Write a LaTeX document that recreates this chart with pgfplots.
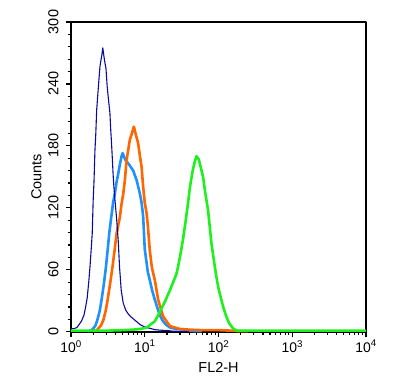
\documentclass[border=0pt]{standalone}
\usepackage{fontspec}
\setmainfont{Liberation Sans}
\usepackage{pgfplots}
\pgfplotsset{compat=1.18}
\definecolor{dblue}{RGB}{10,10,160}
\definecolor{lblue}{RGB}{30,145,250}
\definecolor{orng}{RGB}{255,102,0}
\definecolor{grn}{RGB}{30,240,30}
\begin{document}
\begin{tikzpicture}
\useasboundingbox (-71bp,-54.3bp) rectangle (341bp,331.7bp);
\begin{axis}[
 at={(0,0)}, anchor=south west,
 scale only axis, width=295bp, height=309.7bp,
 xmode=log, xmin=1, xmax=10000, ymin=0, ymax=300,
 xtick={1,10,100,1000,10000},
 minor xtick={2,3,4,5,6,7,8,9,20,30,40,50,60,70,80,90,200,300,400,500,600,700,800,900,2000,3000,4000,5000,6000,7000,8000,9000},
 xticklabels={10\textsuperscript{0},10\textsuperscript{1},10\textsuperscript{2},10\textsuperscript{3},10\textsuperscript{4}},
 ytick={0,60,120,180,240,300},
 minor y tick num=4,
 tick align=outside, xtick pos=bottom, ytick pos=left,
 major tick length=5bp, minor tick length=3bp,
 axis line style={line width=2bp},
 every tick/.style={black, line width=1.2bp},
 /pgf/number format/assume math mode=true,
 yticklabel style={rotate=90, anchor=south, font=\fontsize{14.5}{15}\selectfont},
 yticklabel shift=4bp,
 xticklabel style={font=\fontsize{14}{15}\selectfont},
 xlabel={FL2-H}, ylabel={Counts},
 label style={font=\fontsize{14.5}{15}\selectfont},
 xlabel shift=3bp,
 clip=false,
 line join=round,
]
% light blue
\addplot[color=lblue, line width=2.6bp] coordinates {
(1.7,0.5) (1.85,1) (2.0,3) (2.15,6) (2.27,11) (2.45,20) (2.6,31) (2.8,47) (2.98,63) (3.15,80) (3.3,95) (3.5,110) (3.74,126) (3.94,134) (4.15,145) (4.37,153) (4.6,162) (4.85,170) (5.01,173) (5.2,170) (5.5,166) (5.96,163) (6.4,160) (6.97,156) (7.74,147) (8.58,134) (9.05,125) (9.51,112) (10.0,80) (11.0,58) (11.7,50) (12.6,40) (13.7,31) (15,22) (16,16) (17.7,10) (19.7,6.5) (22,4) (26.9,2.6) (35,2) (40,1) (50,0.5) (60,0.5)
};
% orange
\addplot[color=orng, line width=2.6bp] coordinates {
(2.0,0.5) (2.2,1) (2.34,3) (2.55,6) (2.74,11) (2.95,20) (3.14,31) (3.4,47) (3.66,63) (3.9,79) (4.15,95) (4.6,111) (4.85,124) (5.1,133) (5.38,147) (5.67,166) (6.28,186) (6.7,192) (7.12,198.6) (7.5,192) (8.14,182.5) (8.6,170) (9.05,160) (9.51,140.5) (10.0,125) (10.6,114.7) (11.1,100) (11.7,79) (12.5,62) (13.7,50) (15.2,31) (17.7,15) (21.9,5.5) (29.9,2.6) (40,2) (60,1.5) (100,1.5) (150,1) (200,0.5) (250,0.5)
};
% dark blue
\addplot[color=dblue, line width=1.1bp] coordinates {
(1.0,3) (1.1,3) (1.2,4) (1.26,6) (1.38,10) (1.5,16) (1.58,24) (1.66,33) (1.74,48) (1.81,63) (1.88,80) (1.94,95) (2.0,128) (2.05,145) (2.11,175) (2.17,192) (2.23,215) (2.3,228) (2.38,242) (2.47,257) (2.55,263) (2.62,268) (2.7,275) (2.78,268) (2.86,262) (2.98,255) (3.1,237) (3.22,225) (3.37,212) (3.46,195) (3.55,182) (3.65,165) (3.74,150) (3.84,138) (3.94,128) (4.15,110) (4.37,88) (4.55,63) (4.8,40) (5.1,28) (5.5,21) (6.0,17) (6.6,14) (7.7,10) (8.6,7) (10,4.5) (11.7,3.3) (13.7,2) (16,1.5) (20,1.2) (24,0.5) (30,0.3) (40,0.3)
};
% green
\addplot[color=grn, line width=2.6bp] coordinates {
(1,1) (3,1) (5,1.5) (7,2) (8.6,2.6) (10.6,4) (11.1,5) (12,7) (13.7,10) (14.4,13) (15.5,17) (16.9,22.6) (19,30) (21.9,40) (24,47) (26.9,56) (28.3,63) (30.5,75) (33.1,90) (35.5,105) (38.7,125) (41,140) (44.4,155) (47,163) (50.2,170) (54,167) (58,158) (61.7,150) (66,135) (72.1,118) (80.2,85.7) (87,68) (93.7,53) (100,42) (109.5,30.7) (118,22) (128,14.5) (140,8) (157,3.3) (175,1.2) (194,1) (1000,1) (10000,1)
};
\end{axis}
\end{tikzpicture}
\end{document}
